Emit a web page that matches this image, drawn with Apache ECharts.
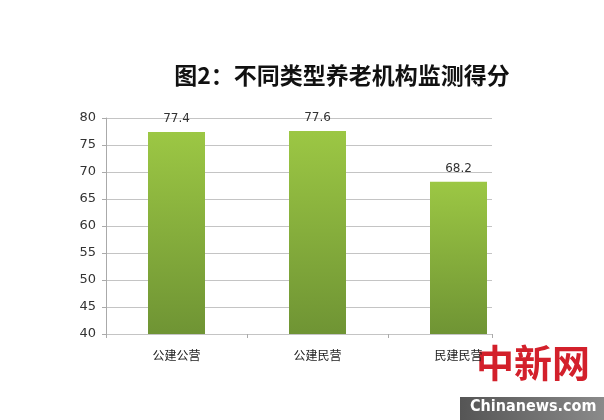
<!DOCTYPE html>
<html>
<head>
<meta charset="utf-8">
<script src="https://cdn.jsdelivr.net/npm/echarts@6/dist/echarts.min.js"></script>
<style>
  html, body { margin: 0; padding: 0; background: #fff; }
  #ec { width: 604px; height: 420px; }
</style>
</head>
<body>
<div id="ec"></div>
<script>
// 数据
var title_text = '图2：不同类型养老机构监测得分';
var categories = ['公建公营', '公建民营', '民建民营'];
var scores = [77.4, 77.6, 68.2];
var y_ticks = [40, 45, 50, 55, 60, 65, 70, 75, 80];

var ec = echarts.init(document.getElementById('ec'));

var font = '"Noto Sans CJK SC", "Noto Sans", sans-serif';

// 网格线区域比柱子的类目区域窄：grid 0 宽 386，类目宽 141
var cat_w = 141;
var grid_w = 386;

var option = {
  backgroundColor: '#fff',
  animation: false,
  title: {
    text: title_text,
    left: 337,
    top: 59,
    textAlign: 'center',
    textStyle: { fontFamily: font, fontSize: 23, fontWeight: 'bold', color: '#111' }
  },
  grid: [
    { left: 106, width: grid_w, top: 118, bottom: 86 },
    { left: 106, width: cat_w * 3, top: 118, bottom: 86 }
  ],
  xAxis: [
    {
      gridIndex: 0, type: 'value', min: 0, max: grid_w / cat_w, interval: 1,
      axisLine: { show: false },
      axisTick: { show: true, length: 4, lineStyle: { color: '#aaa' } },
      axisLabel: { show: false },
      splitLine: { show: false }
    },
    {
      gridIndex: 1, type: 'category', data: categories,
      axisLine: { show: false },
      axisTick: { show: false },
      axisLabel: { fontFamily: font, fontSize: 12, color: '#222', margin: 15 }
    }
  ],
  yAxis: [
    {
      gridIndex: 0, type: 'value',
      min: y_ticks[0], max: y_ticks[y_ticks.length - 1], interval: 5,
      axisLine: { show: true, lineStyle: { color: '#aaa' } },
      axisTick: { show: true, length: 4, lineStyle: { color: '#aaa' } },
      axisLabel: { fontFamily: '"DejaVu Sans", sans-serif', fontSize: 13, color: '#333', margin: 10 },
      splitLine: { lineStyle: { color: '#c4c4c4' } }
    },
    {
      gridIndex: 1, type: 'value',
      min: y_ticks[0], max: y_ticks[y_ticks.length - 1], interval: 5,
      show: false, splitLine: { show: false }
    }
  ],
  series: [{
    type: 'bar',
    xAxisIndex: 1,
    yAxisIndex: 1,
    data: scores,
    barWidth: 57,
    itemStyle: {
      color: new echarts.graphic.LinearGradient(0, 0, 0, 1, [
        { offset: 0, color: '#9cc744' },
        { offset: 1, color: '#6f9434' }
      ])
    },
    label: {
      show: true, position: 'top', distance: 7,
      fontFamily: '"DejaVu Sans", sans-serif', fontSize: 12, color: '#333'
    }
  }],
  graphic: [
    {
      type: 'text', left: 476, top: 344,
      style: { text: '中新网', font: 'bold 38px "Noto Sans CJK SC"', fill: '#d3202b' }
    },
    {
      type: 'rect', shape: { x: 460, y: 397, width: 144, height: 23 },
      style: {
        fill: new echarts.graphic.LinearGradient(0, 0, 1, 0, [
          { offset: 0, color: '#555' },
          { offset: 1, color: '#8a8a8a' }
        ])
      }
    },
    {
      type: 'text', left: 470, top: 399,
      style: { text: 'Chinanews.com', font: 'bold 16px "Liberation Sans Narrow", "DejaVu Sans Condensed", sans-serif', fill: '#fff' }
    }
  ]
};
ec.setOption(option);
</script>
</body>
</html>
